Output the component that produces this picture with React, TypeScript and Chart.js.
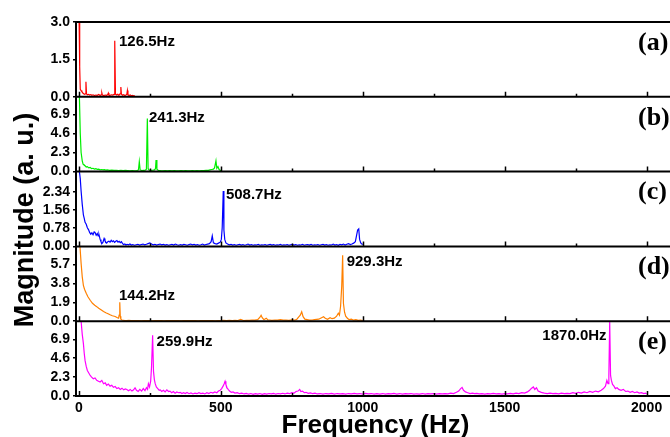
import { useEffect, useRef } from 'react';
import { Chart, registerables } from 'chart.js';

Chart.register(...registerables);

// ---------- data ----------
const xTickValues = [0, 500, 1000, 1500, 2000];
const xMinorTickValues = [250, 750, 1250, 1750];

const ticksA = [0, 1.5, 3.0];
const ticksB = [0, 2.3, 4.6, 6.9];
const ticksC = [0, 0.78, 1.56, 2.34];
const ticksD = [0, 1.9, 3.8, 5.7];
const ticksE = [0, 2.3, 4.6, 6.9];

const panelLabels = ['(a)', '(b)', '(c)', '(d)', '(e)'];

// [frequency (Hz), magnitude]
const spectrumA: [number, number][] = [
  [0, 3.0], [1, 3.0], [3, 1.2], [5, 0.3], [8, 0.25], [11, 0.2], [14, 0.15], [17, 0.12], [20, 0.1], [23, 0.12],
  [25, 0.6], [27, 0.12], [30, 0.08], [34, 0.1], [38, 0.07], [42, 0.09], [46, 0.06], [50, 0.08], [55, 0.05],
  [60, 0.07], [65, 0.06], [70, 0.09], [75, 0.05], [79, 0.08], [81, 0.16], [83, 0.07], [88, 0.05], [93, 0.07],
  [98, 0.06], [102, 0.09], [104, 0.15], [106, 0.07], [110, 0.06], [115, 0.08], [120, 0.07], [124, 0.1],
  [126.5, 2.25], [129, 0.12], [133, 0.07], [137, 0.1], [141, 0.06], [145, 0.12], [148, 0.39], [150, 0.1],
  [154, 0.06], [158, 0.08], [162, 0.05], [166, 0.07], [169, 0.1], [171, 0.25], [173, 0.08], [177, 0.05],
  [181, 0.07], [185, 0.04], [190, 0.06], [194, 0.03], [198, 0.04],
];

const spectrumB: [number, number][] = [
  [0, 9.0], [2, 9.0], [5, 4.6], [8, 2.3], [12, 1.3], [15, 0.9], [18, 0.8], [22, 0.7], [26, 0.55], [30, 0.6],
  [35, 0.45], [40, 0.5], [45, 0.35], [50, 0.4], [55, 0.3], [60, 0.35], [65, 0.28], [70, 0.3], [75, 0.22],
  [80, 0.25], [85, 0.2], [90, 0.24], [95, 0.18], [100, 0.2], [108, 0.15], [116, 0.18], [124, 0.14], [132, 0.16],
  [140, 0.12], [148, 0.15], [156, 0.11], [164, 0.14], [172, 0.12], [180, 0.1], [188, 0.13], [196, 0.1],
  [204, 0.12], [210, 0.2], [213, 1.2], [216, 0.2], [222, 0.12], [228, 0.15], [234, 0.18], [238, 0.3],
  [241.3, 6.4], [244, 0.35], [248, 0.18], [254, 0.14], [260, 0.16], [266, 0.2], [270, 0.35], [272, 1.4],
  [275, 0.3], [280, 0.15], [288, 0.12], [296, 0.1], [304, 0.13], [312, 0.1], [320, 0.12], [328, 0.09],
  [336, 0.11], [344, 0.1], [352, 0.08], [360, 0.11], [368, 0.09], [376, 0.12], [384, 0.1], [392, 0.08],
  [400, 0.11], [408, 0.09], [416, 0.12], [424, 0.1], [432, 0.13], [440, 0.11], [448, 0.14], [456, 0.15],
  [462, 0.2], [468, 0.25], [474, 0.3], [478, 0.45], [483, 1.3], [486, 0.4], [490, 0.6], [494, 0.25],
  [498, 0.15], [500, 0.1],
];

const spectrumC: [number, number][] = [
  [0, 3.2], [2, 3.2], [5, 2.9], [8, 2.37], [12, 1.8], [16, 1.35], [19, 1.2], [22, 1.03], [26, 0.95], [30, 0.8],
  [34, 0.72], [38, 0.6], [42, 0.52], [46, 0.58], [50, 0.5], [54, 0.62], [57, 0.6], [61, 0.48], [65, 0.55],
  [68, 0.45], [71, 0.5], [75, 0.3], [78, 0.2], [81, 0.12], [85, 0.18], [89, 0.34], [92, 0.25], [95, 0.18],
  [98, 0.14], [102, 0.2], [106, 0.22], [110, 0.18], [114, 0.26], [118, 0.2], [122, 0.24], [126, 0.17],
  [130, 0.22], [134, 0.25], [138, 0.18], [142, 0.22], [146, 0.16], [150, 0.2], [154, 0.12], [158, 0.08],
  [162, 0.1], [166, 0.06], [170, 0.09], [175, 0.07], [180, 0.1], [185, 0.06], [190, 0.08], [196, 0.05],
  [202, 0.07], [208, 0.09], [214, 0.06], [220, 0.08], [226, 0.1], [232, 0.07], [238, 0.09], [244, 0.12],
  [250, 0.15], [256, 0.1], [262, 0.07], [268, 0.09], [274, 0.06], [280, 0.08], [286, 0.1], [292, 0.07],
  [298, 0.09], [304, 0.06], [310, 0.08], [316, 0.05], [322, 0.07], [328, 0.09], [334, 0.06], [340, 0.1],
  [346, 0.07], [352, 0.05], [358, 0.08], [364, 0.06], [370, 0.09], [376, 0.07], [382, 0.05], [388, 0.08],
  [394, 0.1], [400, 0.07], [406, 0.09], [412, 0.06], [418, 0.08], [424, 0.05], [430, 0.07], [436, 0.1],
  [442, 0.06], [448, 0.08], [454, 0.1], [460, 0.12], [466, 0.2], [470, 0.45], [474, 0.15], [480, 0.12],
  [486, 0.1], [492, 0.14], [498, 0.18], [502, 0.3], [505, 0.8], [508.7, 2.37], [511, 0.7], [514, 0.3],
  [518, 0.15], [524, 0.1], [530, 0.07], [536, 0.09], [542, 0.06], [548, 0.08], [554, 0.05], [560, 0.07],
  [566, 0.09], [572, 0.06], [578, 0.08], [584, 0.05], [590, 0.07], [596, 0.1], [602, 0.06], [608, 0.08],
  [614, 0.05], [620, 0.07], [626, 0.06], [632, 0.09], [638, 0.05], [644, 0.07], [650, 0.06], [656, 0.08],
  [662, 0.05], [668, 0.07], [674, 0.09], [680, 0.06], [686, 0.08], [692, 0.05], [698, 0.07], [704, 0.06],
  [710, 0.09], [716, 0.05], [722, 0.07], [728, 0.06], [734, 0.08], [740, 0.05], [746, 0.07], [752, 0.09],
  [758, 0.06], [764, 0.08], [770, 0.05], [776, 0.07], [782, 0.06], [788, 0.09], [794, 0.05], [800, 0.07],
  [806, 0.08], [812, 0.06], [818, 0.09], [824, 0.05], [830, 0.07], [836, 0.06], [842, 0.08], [848, 0.05],
  [854, 0.07], [860, 0.09], [866, 0.06], [872, 0.08], [878, 0.05], [884, 0.07], [890, 0.06], [896, 0.1],
  [902, 0.06], [908, 0.08], [914, 0.05], [920, 0.09], [926, 0.07], [932, 0.1], [938, 0.06], [944, 0.09],
  [950, 0.12], [956, 0.08], [962, 0.1], [968, 0.14], [974, 0.2], [978, 0.45], [982, 0.7], [986, 0.75],
  [989, 0.3], [993, 0.15], [997, 0.1], [1000, 0.08],
];

const spectrumD: [number, number][] = [
  [0, 7.5], [4, 7.5], [8, 5.8], [12, 4.45], [16, 3.6], [20, 3.2], [26, 2.8], [32, 2.45], [40, 2.1], [48, 1.8],
  [56, 1.6], [63, 1.46], [70, 1.3], [78, 1.15], [87, 0.97], [95, 0.85], [103, 0.75], [110, 0.64], [118, 0.55],
  [128, 0.47], [136, 0.34], [140, 0.3], [142, 0.6], [144.2, 1.9], [146, 0.5], [148, 0.2], [152, 0.12],
  [160, 0.08], [168, 0.06], [176, 0.08], [184, 0.05], [192, 0.07], [200, 0.05], [210, 0.06], [220, 0.04],
  [230, 0.06], [240, 0.05], [250, 0.07], [260, 0.04], [270, 0.06], [280, 0.05], [290, 0.07], [300, 0.04],
  [310, 0.06], [320, 0.05], [330, 0.07], [340, 0.05], [350, 0.06], [360, 0.04], [370, 0.06], [380, 0.05],
  [390, 0.07], [400, 0.05], [410, 0.06], [420, 0.04], [430, 0.06], [440, 0.05], [450, 0.07], [460, 0.05],
  [470, 0.06], [480, 0.04], [490, 0.07], [500, 0.05], [510, 0.08], [520, 0.06], [530, 0.09], [540, 0.06],
  [550, 0.08], [560, 0.07], [570, 0.18], [580, 0.07], [590, 0.09], [600, 0.08], [610, 0.12], [620, 0.1],
  [630, 0.15], [638, 0.4], [642, 0.6], [646, 0.35], [652, 0.15], [660, 0.3], [666, 0.12], [672, 0.12],
  [680, 0.08], [690, 0.12], [700, 0.1], [710, 0.15], [720, 0.1], [730, 0.12], [740, 0.09], [750, 0.13],
  [760, 0.1], [768, 0.2], [774, 0.4], [780, 0.6], [785, 0.95], [790, 0.45], [796, 0.2], [804, 0.15],
  [812, 0.1], [822, 0.12], [830, 0.15], [845, 0.2], [855, 0.35], [862, 0.45], [868, 0.3], [876, 0.2],
  [885, 0.35], [892, 0.25], [900, 0.3], [908, 0.5], [914, 0.8], [918, 0.6], [922, 1.5], [926, 3.5],
  [929.3, 6.6], [932, 1.8], [936, 0.9], [940, 0.5], [946, 0.3], [952, 0.15], [960, 0.2], [968, 0.1],
  [976, 0.15], [984, 0.08], [992, 0.12], [1000, 0.06],
];

const spectrumE: [number, number][] = [
  [0, 9.1], [5, 9.1], [8, 9.1], [12, 7.5], [16, 6.4], [19, 5.2], [22, 4.3], [26, 3.6], [30, 3.1], [35, 2.8],
  [40, 2.5], [45, 2.3], [51, 2.1], [57, 2.2], [63, 1.9], [69, 1.8], [75, 1.7], [81, 1.9], [87, 1.5], [93, 1.6],
  [98, 1.3], [104, 1.45], [110, 1.2], [116, 1.3], [122, 1.05], [128, 1.15], [134, 0.9], [140, 1.0], [146, 0.8],
  [152, 0.95], [158, 0.75], [164, 0.85], [169, 0.8], [175, 0.65], [181, 0.8], [187, 0.6], [193, 0.75],
  [198, 1.0], [203, 0.7], [209, 0.55], [215, 0.8], [221, 0.6], [227, 0.9], [233, 0.65], [238, 1.0], [242, 0.8],
  [245, 1.5], [249, 1.1], [253, 1.8], [256, 3.5], [259.9, 7.4], [263, 3.0], [266, 2.0], [269, 1.5], [273, 1.1],
  [278, 0.9], [283, 0.7], [287, 0.75], [292, 0.55], [298, 0.7], [304, 0.5], [310, 0.75], [316, 0.55],
  [321, 0.6], [327, 0.4], [333, 0.55], [339, 0.35], [345, 0.5], [351, 0.4], [357, 0.45], [363, 0.3],
  [369, 0.4], [375, 0.3], [381, 0.42], [388, 0.28], [395, 0.38], [402, 0.25], [409, 0.35], [416, 0.28],
  [423, 0.4], [430, 0.3], [437, 0.35], [444, 0.25], [451, 0.4], [458, 0.3], [465, 0.45], [472, 0.35],
  [479, 0.5], [486, 0.4], [492, 0.6], [498, 0.7], [503, 0.9], [508, 1.2], [512, 1.5], [515, 1.8], [518, 1.4],
  [522, 1.0], [526, 0.8], [531, 0.6], [537, 0.45], [543, 0.5], [550, 0.35], [558, 0.4], [566, 0.28],
  [574, 0.35], [582, 0.25], [590, 0.32], [598, 0.22], [606, 0.3], [614, 0.2], [622, 0.28], [630, 0.22],
  [638, 0.3], [646, 0.2], [654, 0.28], [662, 0.22], [670, 0.3], [678, 0.25], [686, 0.32], [694, 0.22],
  [702, 0.3], [710, 0.25], [718, 0.33], [726, 0.25], [734, 0.35], [742, 0.28], [750, 0.4], [758, 0.35],
  [765, 0.55], [772, 0.6], [778, 0.8], [782, 0.55], [788, 0.6], [794, 0.4], [800, 0.45], [808, 0.32],
  [816, 0.38], [824, 0.28], [832, 0.35], [840, 0.25], [850, 0.3], [860, 0.22], [870, 0.3], [880, 0.25],
  [890, 0.32], [900, 0.22], [910, 0.3], [920, 0.25], [930, 0.28], [940, 0.22], [950, 0.3], [960, 0.25],
  [970, 0.32], [980, 0.26], [990, 0.3], [1000, 0.22], [1010, 0.32], [1020, 0.25], [1030, 0.3], [1040, 0.22],
  [1050, 0.28], [1060, 0.24], [1070, 0.3], [1080, 0.22], [1090, 0.28], [1100, 0.25], [1110, 0.32],
  [1120, 0.24], [1130, 0.3], [1140, 0.22], [1150, 0.28], [1160, 0.25], [1170, 0.3], [1180, 0.22],
  [1190, 0.27], [1200, 0.24], [1210, 0.3], [1220, 0.22], [1230, 0.28], [1240, 0.25], [1250, 0.3],
  [1260, 0.23], [1270, 0.28], [1280, 0.25], [1290, 0.3], [1300, 0.26], [1310, 0.35], [1320, 0.3],
  [1330, 0.45], [1338, 0.6], [1345, 0.9], [1350, 1.05], [1355, 0.7], [1362, 0.5], [1370, 0.4], [1378, 0.3],
  [1386, 0.35], [1394, 0.28], [1402, 0.32], [1410, 0.25], [1420, 0.3], [1430, 0.24], [1440, 0.3],
  [1450, 0.25], [1460, 0.32], [1470, 0.26], [1480, 0.3], [1490, 0.24], [1500, 0.3], [1510, 0.26],
  [1520, 0.33], [1530, 0.27], [1540, 0.35], [1550, 0.3], [1560, 0.4], [1570, 0.35], [1580, 0.5], [1588, 0.7],
  [1595, 0.95], [1601, 1.1], [1606, 0.8], [1612, 1.0], [1618, 0.6], [1625, 0.5], [1632, 0.4], [1640, 0.35],
  [1650, 0.3], [1660, 0.35], [1670, 0.28], [1680, 0.32], [1690, 0.27], [1700, 0.35], [1710, 0.28],
  [1720, 0.33], [1730, 0.3], [1740, 0.4], [1750, 0.32], [1760, 0.45], [1770, 0.35], [1780, 0.5], [1790, 0.4],
  [1800, 0.55], [1810, 0.45], [1820, 0.6], [1830, 0.5], [1840, 0.7], [1848, 0.9], [1855, 1.2], [1860, 1.9],
  [1864, 1.5], [1867, 2.5], [1870, 9.1], [1873, 2.5], [1876, 1.9], [1880, 1.4], [1885, 1.2], [1890, 0.9],
  [1896, 1.0], [1902, 0.8], [1910, 0.7], [1918, 0.8], [1926, 0.55], [1934, 0.6], [1942, 0.45], [1950, 0.55],
  [1958, 0.4], [1966, 0.5], [1974, 0.35], [1982, 0.4], [1990, 0.3], [1996, 0.35], [2000, 0.25],
];

// peak annotations: text, panel, anchor frequency, anchor magnitude, alignment
const peakTexts = ['126.5Hz', '241.3Hz', '508.7Hz', '929.3Hz', '144.2Hz', '259.9Hz', '1870.0Hz'];
const peakPanels = ['yA', 'yB', 'yC', 'yD', 'yD', 'yE', 'yE'];
const peakAnchorX = [141.5, 247, 518, 943.5, 141.5, 274, 1859];
const peakAnchorY = [2.21, 6.41, 2.2, 5.97, 2.53, 6.6, 7.34];
const peakAlign = ['left', 'left', 'left', 'left', 'left', 'left', 'right'];

// ---------- config ----------
const panelIds = ['yA', 'yB', 'yC', 'yD', 'yE'];
const SANS = '"Liberation Sans", Arial, sans-serif';
const SERIF = '"Liberation Serif", "Times New Roman", serif';

function yScale(ticks: number[], max: number, decimals: number) {
  return {
    type: 'linear',
    position: 'left',
    stack: 'panels',
    stackWeight: 1,
    min: 0,
    max,
    afterBuildTicks: (s: any) => {
      s.ticks = ticks.map((v) => ({ value: v }));
    },
    afterFit: (s: any) => {
      s.width = 76;
    },
    ticks: {
      autoSkip: false,
      color: '#000',
      padding: 3,
      font: { family: SANS, weight: 'bold', size: 14 },
      callback: (v: any) => Number(v).toFixed(decimals),
    },
    grid: { drawOnChartArea: false, drawTicks: true, tickLength: 3, color: '#000', lineWidth: 1.5 },
    border: { display: true, color: '#000', width: 2 },
  };
}

const framePlugin = {
  id: 'frames',
  afterDatasetsDraw(chart: any) {
    const ctx = chart.ctx;
    const { left, right } = chart.chartArea;
    const xs = chart.scales.x;
    ctx.save();
    // panel separators and inward x ticks
    panelIds.forEach((id, i) => {
      const s = chart.scales[id];
      ctx.strokeStyle = '#000';
      ctx.lineWidth = 2;
      ctx.beginPath();
      ctx.moveTo(left - 1, s.top);
      ctx.lineTo(right, s.top);
      ctx.stroke();
      ctx.lineWidth = 1.5;
      ctx.beginPath();
      xTickValues.forEach((v) => {
        const px = Math.round(xs.getPixelForValue(v)) + 0.5;
        ctx.moveTo(px, s.bottom);
        ctx.lineTo(px, s.bottom - 5);
      });
      xMinorTickValues.forEach((v) => {
        const px = Math.round(xs.getPixelForValue(v)) + 0.5;
        ctx.moveTo(px, s.bottom);
        ctx.lineTo(px, s.bottom - 3);
      });
      ctx.stroke();
      // panel label
      ctx.fillStyle = '#000';
      ctx.font = `bold 26px ${SERIF}`;
      ctx.textAlign = 'left';
      ctx.textBaseline = 'middle';
      ctx.fillText(panelLabels[i], right - 37, s.top + 21);
    });
    // peak annotations
    ctx.font = `bold 15px ${SANS}`;
    ctx.textBaseline = 'middle';
    peakTexts.forEach((t, i) => {
      const ys = chart.scales[peakPanels[i]];
      ctx.textAlign = peakAlign[i] as CanvasTextAlign;
      ctx.fillText(t, xs.getPixelForValue(peakAnchorX[i]), ys.getPixelForValue(peakAnchorY[i]));
    });
    // axis titles
    const top = chart.scales.yA.top;
    const bottom = chart.scales.yE.bottom;
    ctx.font = `bold 27px ${SANS}`;
    ctx.textAlign = 'center';
    ctx.textBaseline = 'middle';
    ctx.save();
    ctx.translate(26, (top + bottom) / 2 + 11);
    ctx.rotate(-Math.PI / 2);
    ctx.fillText('Magnitude (a. u.)', 0, 0);
    ctx.restore();
    ctx.font = `bold 26px ${SANS}`;
    ctx.textBaseline = 'alphabetic';
    ctx.fillText('Frequency (Hz)', (left + right) / 2, 433);
    ctx.restore();
  },
};

function toPoints(arr: [number, number][]) {
  return arr.map(([x, y]) => ({ x, y }));
}

export default function App() {
  const ref = useRef<HTMLCanvasElement | null>(null);
  useEffect(() => {
    if (!ref.current) return;
    const mk = (data: [number, number][], color: string, yAxisID: string) => ({
      data: toPoints(data),
      borderColor: color,
      backgroundColor: color,
      borderWidth: 1.2,
      pointRadius: 0,
      tension: 0,
      fill: false,
      xAxisID: 'x',
      yAxisID,
    });
    const chart = new Chart(ref.current, {
      type: 'line',
      data: {
        datasets: [
          mk(spectrumA, '#ff0000', 'yA'),
          mk(spectrumB, '#00ee00', 'yB'),
          mk(spectrumC, '#0000ff', 'yC'),
          mk(spectrumD, '#ff8000', 'yD'),
          mk(spectrumE, '#ff00ff', 'yE'),
        ],
      },
      options: {
        animation: false,
        responsive: false,
        parsing: false as any,
        layout: { padding: { left: 0, right: 15, top: 22, bottom: 0 } },
        plugins: { legend: { display: false }, tooltip: { enabled: false }, title: { display: false } },
        scales: {
          x: {
            type: 'linear',
            position: 'bottom',
            min: -10,
            max: 2100,
            afterBuildTicks: (s: any) => {
              s.ticks = xTickValues.map((v) => ({ value: v }));
            },
            afterFit: (s: any) => {
              s.height = 41;
            },
            ticks: {
              autoSkip: false,
              maxRotation: 0,
              color: '#000',
              padding: 4,
              font: { family: SANS, weight: 'bold', size: 14 },
              callback: (v: any) => String(v),
            },
            grid: { drawOnChartArea: false, drawTicks: false },
            border: { display: true, color: '#000', width: 2 },
          },
          yE: yScale(ticksE, 9.1, 1),
          yD: yScale(ticksD, 7.5, 1),
          yC: yScale(ticksC, 3.2, 2),
          yB: yScale(ticksB, 9.0, 1),
          yA: yScale(ticksA, 3.0, 1),
        } as any,
      },
      plugins: [framePlugin],
    } as any);
    return () => chart.destroy();
  }, []);
  return (
    <div
      style={{
        position: 'fixed',
        left: 0,
        top: 0,
        width: 670,
        height: 437,
        overflow: 'hidden',
        background: '#fff',
      }}
    >
      <canvas ref={ref} width={690} height={437} style={{ display: 'block' }} />
    </div>
  );
}
